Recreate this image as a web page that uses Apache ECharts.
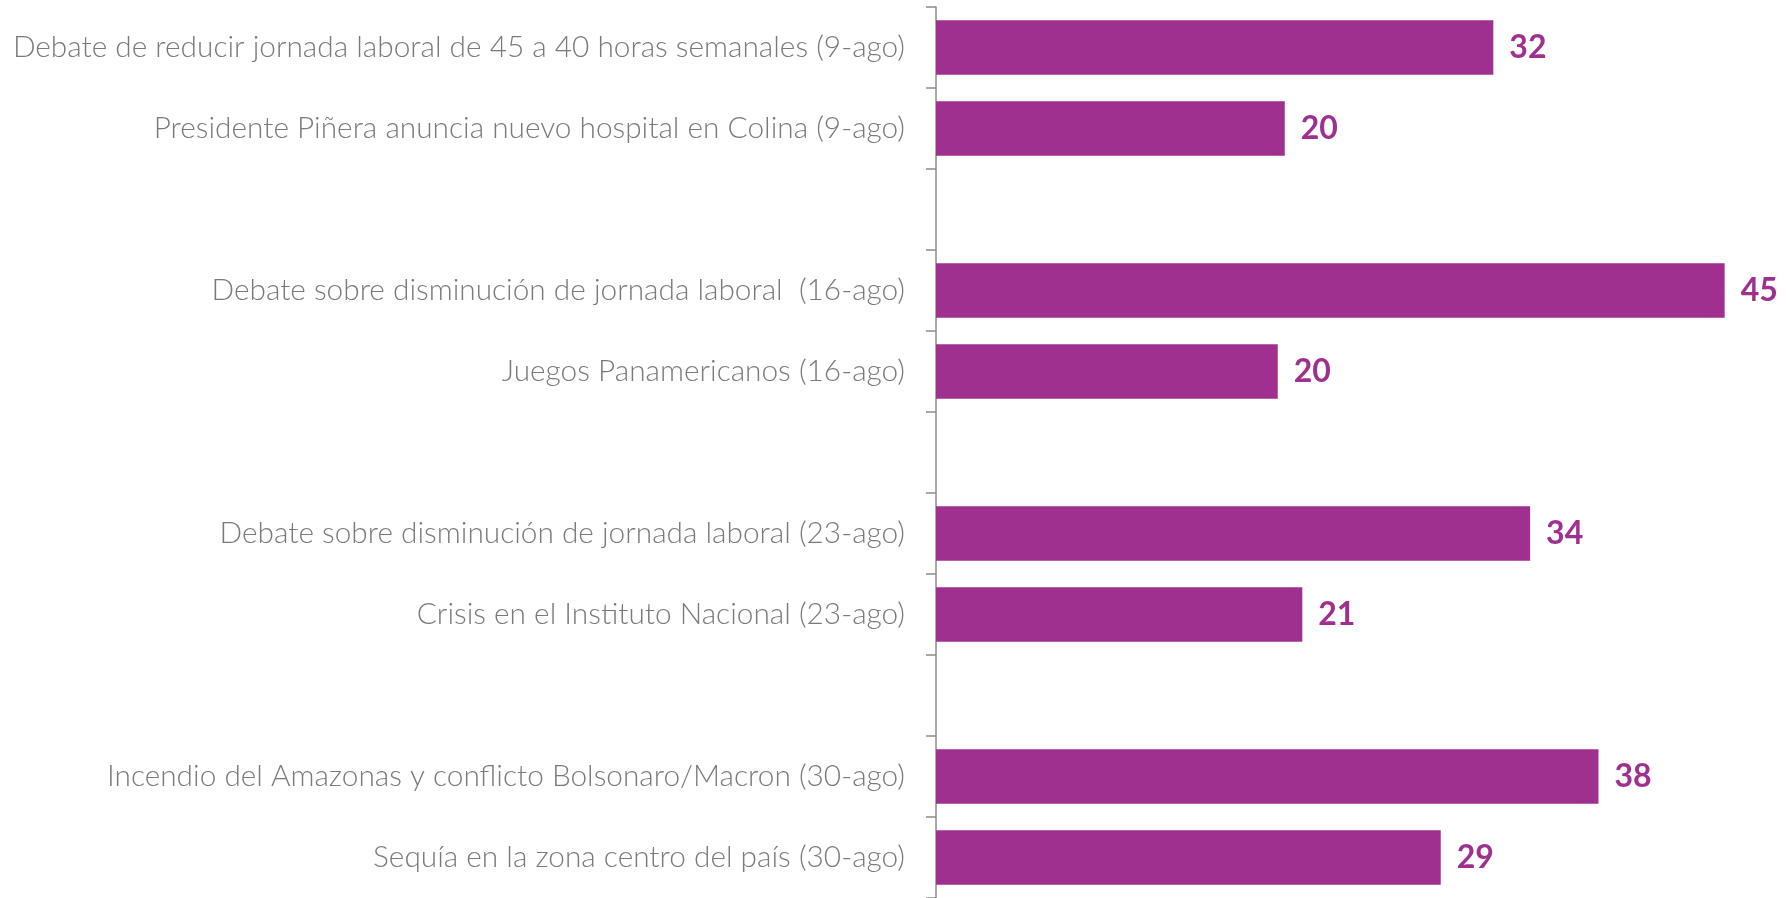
<!DOCTYPE html>
<html>
<head>
<meta charset="utf-8">
<script src="https://cdn.jsdelivr.net/npm/echarts@6/dist/echarts.min.js"></script>
<style>
  html, body { margin: 0; padding: 0; background: #fff; }
  #chart { width: 1786px; height: 898px; }
</style>
</head>
<body>
<div id="chart"></div>
<script>
// categorias (los huecos separan las semanas)
var categories = [
  'Debate de reducir jornada laboral de 45 a 40 horas semanales (9-ago)',
  'Presidente Piñera anuncia nuevo hospital en Colina (9-ago)',
  ' ',
  'Debate sobre disminución de jornada laboral  (16-ago)',
  'Juegos Panamericanos (16-ago)',
  '  ',
  'Debate sobre disminución de jornada laboral (23-ago)',
  'Crisis en el Instituto Nacional (23-ago)',
  '   ',
  'Incendio del Amazonas y conflicto Bolsonaro/Macron (30-ago)',
  'Sequía en la zona centro del país (30-ago)'
]
// largo de barra; la etiqueta muestra el valor redondeado
var values = [31.8, 19.9, '-', 45, 19.5, '-', 33.9, 20.9, '-', 37.8, 28.8]

var purple = '#9F3090'

var myChart = echarts.init(document.getElementById('chart'))
var option = {
  backgroundColor: '#fff',
  animation: false,
  grid: {
    left: 936,
    right: 0,
    top: 7,
    bottom: -2
  },
  xAxis: {
    type: 'value',
    min: 0,
    max: 48.5,
    show: false
  },
  yAxis: {
    type: 'category',
    inverse: true,
    data: categories,
    axisLine: { show: true, lineStyle: { color: '#8c8c8c', width: 1.5 } },
    axisTick: { show: true, length: 10, lineStyle: { color: '#8c8c8c', width: 1.5 } },
    axisLabel: {
      margin: 31,
      color: '#7a7a7a',
      fontFamily: 'Lato',
      fontWeight: 300,
      fontSize: 29.8
    }
  },
  series: [{
    type: 'bar',
    data: values,
    barCategoryGap: '33%',
    itemStyle: { color: purple },
    label: {
      show: true,
      position: 'right',
      distance: 16,
      color: purple,
      fontFamily: 'Lato',
      fontWeight: 'bold',
      fontSize: 32,
      formatter: function (p) { return Math.round(p.value) }
    }
  }]
}
myChart.setOption(option)
window.addEventListener('resize', function () {
  myChart.resize()
})
</script>
</body>
</html>
